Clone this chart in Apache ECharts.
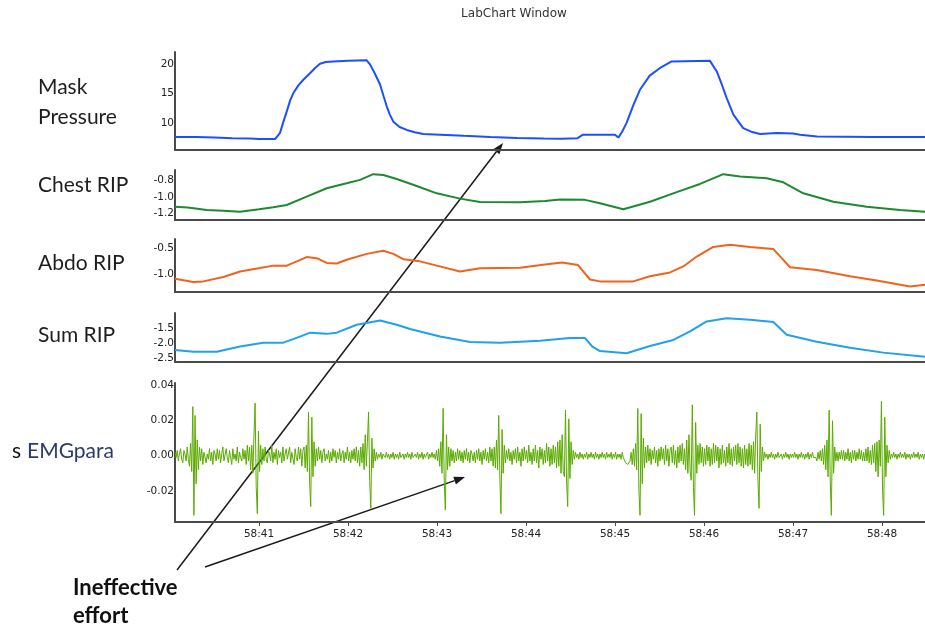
<!DOCTYPE html>
<html>
<head>
<meta charset="utf-8">
<script src="https://cdn.jsdelivr.net/npm/echarts@6/dist/echarts.min.js"></script>
<style>
html,body{margin:0;padding:0;background:#fff;}
#chart{width:925px;height:628px;}
</style>
</head>
<body>
<div id="chart"></div>
<script>
// ---- time axis (seconds after 58:40) ----
const timeMin = 0.056;
const timeMax = 8.483;
const timeTicks = [1, 2, 3, 4, 5, 6, 7, 8];
const timeTickLabels = ['58:41', '58:42', '58:43', '58:44', '58:45', '58:46', '58:47', '58:48'];

// ---- y tick labels ----
const maskTicks = [10, 15, 20];
const chestTicks = [-1.2, -1.0, -0.8];
const abdoTicks = [-1.0, -0.5];
const sumTicks = [-2.5, -2.0, -1.5];
const emgTicks = [-0.02, 0.00, 0.02, 0.04];

// ---- Mask pressure [t, value] ----
const maskPressure = [
  [0.056,7.6],[0.3,7.6],[0.5,7.5],[0.7,7.4],[0.9,7.35],[1.0,7.25],[1.18,7.25],[1.236,8.3],[1.27,10],
  [1.311,11.9],[1.35,13.8],[1.385,15],[1.44,16.3],[1.498,17.3],[1.573,18.4],[1.63,19.3],[1.685,20],
  [1.75,20.3],[1.835,20.4],[2.0,20.5],[2.21,20.6],[2.247,19.9],[2.30,18.4],[2.36,16.5],[2.40,14.5],
  [2.435,12.8],[2.47,11.4],[2.509,10.2],[2.58,9.3],[2.66,8.8],[2.75,8.4],[2.846,8.1],[3.034,8.0],
  [3.3,7.8],[3.6,7.6],[3.9,7.45],[4.2,7.35],[4.4,7.3],[4.58,7.4],[4.64,8.0],[5.0,8.0],[5.037,7.5],
  [5.08,8.5],[5.13,10],[5.206,13],[5.28,15.6],[5.39,18],[5.506,19.3],[5.637,20.4],[6.067,20.5],
  [6.143,18.7],[6.2,16.5],[6.255,14.2],[6.33,11.4],[6.44,9.1],[6.53,8.5],[6.63,8.1],[6.817,8.3],
  [7.0,8.2],[7.08,8.0],[7.27,7.7],[7.9,7.6],[8.483,7.6]
];

// ---- Chest RIP [t, value] ----
const chestRIP = [
  [0.056,-1.12],[0.2,-1.13],[0.412,-1.16],[0.6,-1.17],[0.787,-1.18],[1.0,-1.15],[1.16,-1.127],[1.311,-1.098],
  [1.536,-0.996],[1.761,-0.893],[1.985,-0.832],[2.135,-0.79],[2.284,-0.72],[2.397,-0.73],[2.547,-0.78],
  [2.772,-0.865],[2.997,-0.955],[3.258,-1.02],[3.483,-1.06],[3.933,-1.065],[4.213,-1.05],[4.382,-1.03],
  [4.663,-1.035],[4.831,-1.077],[5.093,-1.15],[5.393,-1.058],[5.693,-0.94],[5.955,-0.84],[6.217,-0.72],
  [6.404,-0.75],[6.704,-0.77],[6.891,-0.82],[7.116,-0.955],[7.453,-1.058],[7.828,-1.12],[8.202,-1.16],[8.483,-1.18]
];

// ---- Abdo RIP [t, value] ----
const abdoRIP = [
  [0.056,-1.075],[0.262,-1.137],[0.374,-1.125],[0.599,-1.043],[0.787,-0.94],[1.011,-0.875],[1.161,-0.83],
  [1.311,-0.83],[1.424,-0.75],[1.536,-0.67],[1.648,-0.69],[1.761,-0.78],[1.873,-0.79],[1.985,-0.72],
  [2.21,-0.61],[2.397,-0.55],[2.509,-0.61],[2.621,-0.71],[2.809,-0.75],[2.997,-0.83],[3.258,-0.94],
  [3.483,-0.88],[3.933,-0.87],[4.213,-0.81],[4.404,-0.77],[4.584,-0.82],[4.719,-1.09],[4.831,-1.125],
  [5.206,-1.125],[5.393,-1.03],[5.618,-0.957],[5.767,-0.845],[5.918,-0.66],[6.104,-0.48],[6.292,-0.44],
  [6.517,-0.48],[6.779,-0.52],[6.873,-0.69],[6.966,-0.86],[7.266,-0.91],[7.64,-1.03],[7.94,-1.11],
  [8.315,-1.22],[8.483,-1.19]
];

// ---- Sum RIP [t, value] ----
const sumRIP = [
  [0.056,-2.22],[0.262,-2.28],[0.525,-2.28],[0.787,-2.11],[1.048,-1.98],[1.273,-1.98],[1.461,-1.78],
  [1.573,-1.65],[1.761,-1.69],[1.873,-1.65],[2.098,-1.39],[2.36,-1.25],[2.547,-1.39],[2.697,-1.53],
  [3.034,-1.78],[3.371,-1.96],[3.708,-1.98],[4.157,-1.92],[4.494,-1.83],[4.663,-1.83],[4.742,-2.1],
  [4.831,-2.257],[5.13,-2.33],[5.393,-2.09],[5.655,-1.89],[5.843,-1.61],[6.03,-1.28],[6.255,-1.17],
  [6.517,-1.22],[6.779,-1.3],[6.929,-1.72],[7.266,-1.95],[7.64,-2.15],[8.014,-2.31],[8.483,-2.45]
];

// ---- sEMGpara, sampled every emgStep s from emgStart, values in thousandths ----
const emgStart = 0.056;
const emgStep = 0.0125;
const emgMilli = [
  2,-1,3,-3,1,4,-2,-4,3,1,-3,5,-2,-6,7,-9,28,-34,23,-16,
  9,-8,5,-3,4,-5,2,3,-4,1,-2,4,-3,2,-5,3,1,-3,4,-2,
  3,-4,1,5,-3,-2,4,-1,-4,3,2,-5,4,-2,1,-3,5,-4,2,-1,
  -3,4,-2,3,-5,6,-3,5,-8,6,-10,12,30,-18,-33,14,-9,6,-5,4,
  -3,5,-2,-4,3,1,-3,6,-4,2,-2,4,-5,3,-1,2,-4,5,-3,1,
  4,-2,-3,5,-4,2,3,-5,4,-1,-3,5,-2,4,-6,3,5,-7,6,-9,
  25,-15,-29,22,-12,8,-6,4,-3,5,-2,3,-4,2,4,-3,1,-2,3,-4,
  2,-3,4,-1,3,-4,2,-2,4,-3,1,3,-4,2,-2,5,-3,2,-4,3,
  -2,4,-3,5,-4,3,-6,5,-4,7,-8,12,-6,9,25,-14,-30,10,-7,4,
  -3,2,-2,1,-1,2,-2,1,0,-1,2,-1,1,-2,1,-1,2,-2,1,-1,
  1,-2,2,-1,0,1,-2,1,-1,2,-1,1,-2,2,-1,0,1,-1,2,-2,
  1,-1,2,-2,1,-1,0,2,-2,1,-1,2,-1,1,-2,3,-3,4,-6,8,
  -10,27,-14,-31,12,-8,5,-6,4,-3,3,-4,2,-3,4,-2,3,-3,2,-4,
  3,-2,4,-3,2,-4,3,1,-3,2,-4,3,-2,4,-3,2,-5,3,-2,4,
  -3,2,-4,5,-3,4,-6,5,-7,9,-8,23,-12,-33,15,-10,6,-4,3,-2,
  4,-3,2,-5,3,-2,4,-4,5,-3,2,-6,4,-3,5,-2,3,-4,6,-3,
  2,-5,4,-3,6,-4,3,-7,5,-2,4,-5,3,-4,7,-3,5,-6,4,-5,
  6,-4,5,-7,8,-6,9,-10,12,-9,-12,26,-15,-29,21,-13,8,-5,3,-2,
  2,-1,1,-2,2,-1,1,-2,1,-1,2,-2,1,-1,2,-1,1,-2,2,-1,
  1,-2,1,-1,2,-1,1,-2,2,-1,1,-1,2,-2,1,-1,2,-2,1,-1,
  1,-2,2,-1,-2,-4,-3,-5,-4,-3,2,-5,4,-6,7,-8,27,-20,-34,24,
  -16,10,-7,5,-4,6,-3,4,-5,3,-2,5,-4,3,-6,4,-3,5,-2,4,
  -5,6,-3,4,-6,3,5,-4,6,-5,3,-7,5,-4,6,-3,7,-5,4,-8,
  9,-10,12,-8,-14,29,-18,-34,19,-10,6,-5,7,-4,5,-6,4,-5,6,-3,
  5,-6,4,-5,7,-4,6,-3,5,-7,4,-5,6,-4,3,-6,5,-4,7,-5,
  4,-6,5,-3,6,-5,7,-4,5,-6,4,-7,6,-5,4,-6,7,-5,6,-8,
  8,-10,12,25,-14,-30,18,-9,5,-3,2,-1,1,-2,1,-1,2,-1,1,-2,
  1,-1,2,-1,0,1,-2,1,-1,2,-1,1,-2,1,-1,1,-1,2,-1,1,
  -2,1,-1,2,-1,1,-2,1,-1,2,-2,1,-1,2,-1,-2,-1,-3,2,-2,
  3,-3,4,-5,6,-8,9,-12,26,-15,-34,20,-10,5,-3,2,-3,2,-2,3,
  -2,3,-3,2,-2,4,-3,2,-4,3,-2,3,-3,2,-2,4,-2,3,-3,2,
  -3,4,-3,5,-4,3,-5,6,-4,7,-9,8,-12,9,-6,31,-20,-34,22,-12,
  6,-4,3,-2,1,-1,2,-1,1,-2,1,-1,2,-1,1,-1,2,-2,1,-1,
  1,-2,1,-1,2,-1,1,-1,2,-2,1,-1,1,-2,1
];

// ---- text ----
const titleText = 'LabChart Window';
const channelLabels = [['Mask', 'Pressure'], ['Chest RIP'], ['Abdo RIP'], ['Sum RIP'], ['s', 'EMGpara']];
const noteLines = ['Ineffective', 'effort'];

const emgData = emgMilli.map((v, i) => [emgStart + i * emgStep, v / 1000]);

// layout
const grids = [
  {top: 52, height: 98, yMin: 5.4, yMax: 22, ticks: maskTicks, fmt: v => String(v), color: '#1d4fff', data: maskPressure, w: 2},
  {top: 170, height: 50, yMin: -1.282, yMax: -0.669, ticks: chestTicks, fmt: v => v.toFixed(1), color: '#1d8a30', data: chestRIP, w: 2},
  {top: 239, height: 53, yMin: -1.324, yMax: -0.331, ticks: abdoTicks, fmt: v => v.toFixed(1), color: '#f0631c', data: abdoRIP, w: 2},
  {top: 313, height: 49, yMin: -2.62, yMax: -1.0, ticks: sumTicks, fmt: v => v.toFixed(1), color: '#20a0ee', data: sumRIP, w: 2},
  {top: 383, height: 139, yMin: -0.0378, yMax: 0.0415, ticks: emgTicks, fmt: v => v.toFixed(2), color: '#5aaa00', data: emgData, w: 1}
];

const axisColor = '#4a4a4a';
const labelFont = 'DejaVu Sans';

const option = {
  animation: false,
  backgroundColor: '#ffffff',
  grid: grids.map(g => ({left: 175, right: 0, top: g.top, height: g.height, outerBoundsMode: 'none', containLabel: false})),
  xAxis: grids.map((g, i) => {
    const last = i === grids.length - 1;
    return {
      type: 'value', gridIndex: i, min: timeMin, max: timeMax,
      axisLine: {show: true, onZero: false, lineStyle: {color: axisColor, width: 2}},
      axisTick: last ? {show: true, customValues: timeTicks, length: 4, inside: false, lineStyle: {color: axisColor, width: 1}} : {show: false},
      axisLabel: last ? {show: true, customValues: timeTicks, margin: 7, fontFamily: labelFont, fontSize: 10.5, color: '#222',
        formatter: v => timeTickLabels[timeTicks.indexOf(Math.round(v))] || ''} : {show: false},
      splitLine: {show: false}
    };
  }),
  yAxis: grids.map((g, i) => ({
    type: 'value', gridIndex: i, min: g.yMin, max: g.yMax,
    axisLine: {show: true, onZero: false, lineStyle: {color: axisColor, width: 2}},
    axisTick: {show: false},
    axisLabel: {show: true, customValues: g.ticks, margin: 1, fontFamily: labelFont, fontSize: 10.5, color: '#222', formatter: g.fmt},
    splitLine: {show: false}
  })),
  series: grids.map((g, i) => ({
    type: 'line', xAxisIndex: i, yAxisIndex: i, data: g.data, showSymbol: false, symbol: 'none',
    lineStyle: {color: g.color, width: g.w}, clip: true
  })),
  graphic: []
};

const chart = echarts.init(document.getElementById('chart'), null, {renderer: 'canvas'});

function textEl(text, x, y, font, fill, align) {
  return {type: 'text', silent: true, style: {text: text, x: x, y: y, font: font, fill: fill, textAlign: align || 'left', textVerticalAlign: 'middle'}};
}
function arrow(x1, y1, x2, y2) {
  const dx = x2 - x1, dy = y2 - y1, L = Math.sqrt(dx * dx + dy * dy);
  const ux = dx / L, uy = dy / L, hl = 11, hw = 4;
  const bx = x2 - ux * hl, by = y2 - uy * hl;
  return [
    {type: 'line', silent: true, shape: {x1: x1, y1: y1, x2: bx, y2: by}, style: {stroke: '#1a1a1a', lineWidth: 1.5}},
    {type: 'polygon', silent: true, shape: {points: [[x2, y2], [bx - uy * hw, by + ux * hw], [bx + uy * hw, by - ux * hw]]}, style: {fill: '#1a1a1a'}}
  ];
}

const nameFont = '21px Lato';
option.graphic = [
  textEl(titleText, 514, 14, '12px "DejaVu Sans"', '#333', 'center'),
  textEl(channelLabels[0][0], 38, 87, nameFont, '#1e1e1e'),
  textEl(channelLabels[0][1], 38, 117, nameFont, '#1e1e1e'),
  textEl(channelLabels[1][0], 38, 185, nameFont, '#1e1e1e'),
  textEl(channelLabels[2][0], 38, 263.5, nameFont, '#1e1e1e'),
  textEl(channelLabels[3][0], 38, 335, nameFont, '#1e1e1e'),
  textEl(channelLabels[4][0], 12, 451, nameFont, '#111'),
  textEl(channelLabels[4][1], 27, 451, nameFont, '#2b3b6a'),
  textEl(noteLines[0], 73, 588, 'bold 22px Lato', '#111'),
  textEl(noteLines[1], 73, 616, 'bold 22px Lato', '#111')
].concat(arrow(177, 570, 503, 143)).concat(arrow(205, 567, 465, 477));

chart.setOption(option);
</script>
</body>
</html>
